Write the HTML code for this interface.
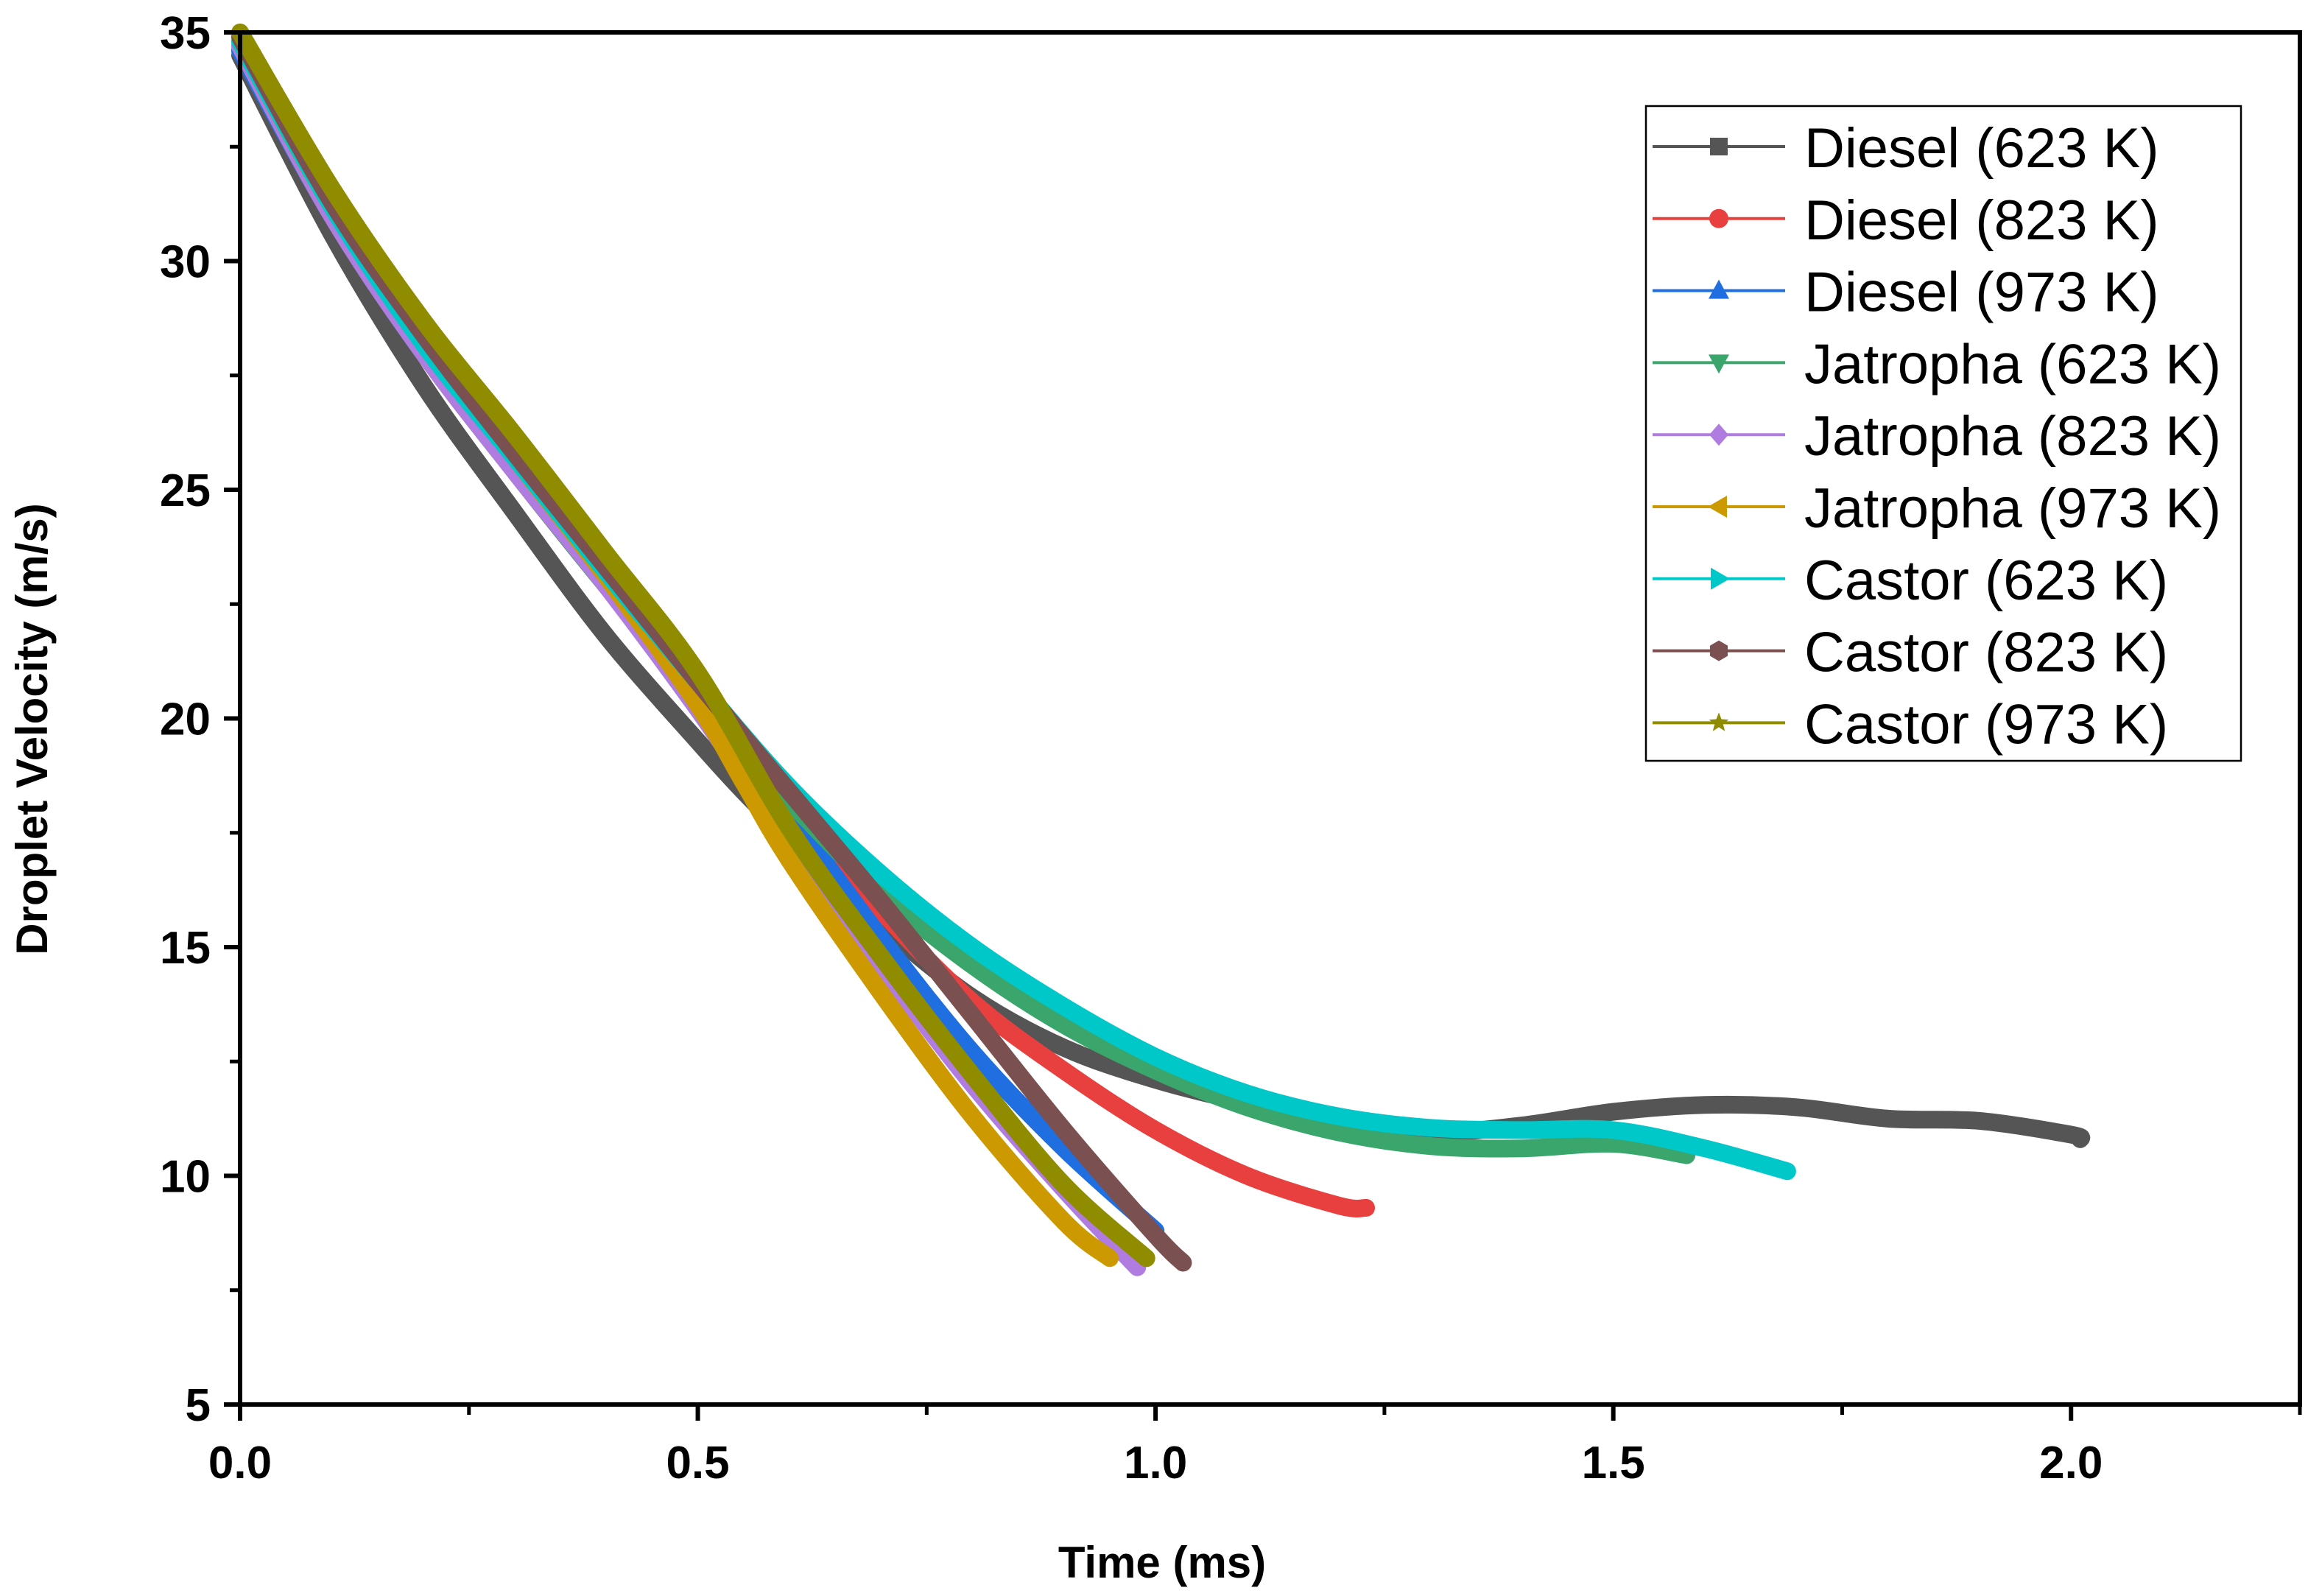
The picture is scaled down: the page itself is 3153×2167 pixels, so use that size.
<!DOCTYPE html>
<html><head><meta charset="utf-8"><style>
html,body{margin:0;padding:0;background:#fff;}
svg{display:block;font-family:"Liberation Sans",Arial,sans-serif;}
</style></head><body>
<svg id="chart" width="3153" height="2167" viewBox="0 0 3153 2167" xmlns="http://www.w3.org/2000/svg">
<g id="series"></g>
<g id="axes"></g>
<g id="legend"></g>
<text x="1578" y="2142" font-size="60" font-weight="bold" text-anchor="middle">Time (ms)</text>
<text transform="translate(64,990) rotate(-90)" font-size="60" font-weight="bold" text-anchor="middle">Droplet Velocity (m/s)</text>
</svg>
<script>
const seriesNames = ["Diesel (623 K)","Diesel (823 K)","Diesel (973 K)","Jatropha (623 K)","Jatropha (823 K)","Jatropha (973 K)","Castor (623 K)","Castor (823 K)","Castor (973 K)"];
const seriesColors = ["#555555","#e8403f","#1f6fe0","#3aa66b","#b07ce0","#cc9a00","#00c8c8","#7a5050","#8f8c00"];
const seriesMarkers = ["square","circle","triangle","down","diamond","left","right","hexagon","star"];
const diesel623T = [0,0.1,0.2,0.3,0.4,0.5,0.55,0.6,0.7,0.8,0.9,1.0,1.1,1.2,1.3,1.4,1.5,1.6,1.7,1.8,1.9,2.0,2.01];
const diesel623V = [34.5,30.6,27.3,24.5,21.8,19.5,18.4,17.4,15.5,13.9,12.8,12.1,11.6,11.2,10.95,11.1,11.4,11.55,11.5,11.25,11.2,10.9,10.8];
const diesel823T = [0,0.1,0.2,0.3,0.4,0.5,0.6,0.7,0.8,0.9,1.0,1.1,1.2,1.23];
const diesel823V = [34.6,31.0,28.0,25.4,22.9,20.5,18.1,15.8,13.8,12.3,11.0,10.0,9.35,9.3];
const diesel973T = [0,0.1,0.2,0.3,0.4,0.5,0.6,0.7,0.8,0.9,1.0];
const diesel973V = [34.6,31.0,28.0,25.5,23.0,20.5,17.9,15.2,12.7,10.6,8.8];
const jatropha623T = [0,0.1,0.2,0.3,0.4,0.5,0.6,0.7,0.8,0.9,1.0,1.1,1.2,1.3,1.4,1.5,1.58];
const jatropha623V = [34.7,31.0,28.0,25.4,22.9,20.5,18.2,16.2,14.6,13.3,12.3,11.5,10.95,10.65,10.6,10.7,10.45];
const jatropha823T = [0,0.1,0.2,0.3,0.4,0.5,0.6,0.7,0.8,0.9,0.98];
const jatropha823V = [34.7,31.0,28.0,25.4,22.9,20.2,17.3,14.6,12.0,9.7,8.0];
const jatropha973T = [0,0.1,0.2,0.3,0.4,0.5,0.55,0.6,0.7,0.8,0.9,0.95];
const jatropha973V = [34.8,31.2,28.3,25.7,23.1,20.3,18.6,16.9,14.0,11.3,9.0,8.2];
const castor623T = [0,0.1,0.2,0.3,0.4,0.5,0.6,0.7,0.8,0.9,1.0,1.1,1.2,1.3,1.4,1.5,1.6,1.69];
const castor623V = [34.8,31.2,28.2,25.7,23.2,20.8,18.5,16.6,15.0,13.7,12.6,11.8,11.3,11.05,11.0,11.0,10.6,10.1];
const castor823T = [0,0.1,0.2,0.3,0.4,0.5,0.6,0.7,0.8,0.9,1.0,1.03];
const castor823V = [34.9,31.3,28.4,25.8,23.3,20.8,18.4,16.0,13.5,11.0,8.7,8.1];
const castor973T = [0,0.1,0.2,0.3,0.4,0.5,0.6,0.7,0.8,0.9,0.99];
const castor973V = [35.0,31.6,28.7,26.2,23.6,21.0,17.6,14.8,12.2,9.8,8.2];
const xTicks = [0,0.5,1.0,1.5,2.0];
const xTickLabels = ["0.0","0.5","1.0","1.5","2.0"];
const yTicks = [5,10,15,20,25,30,35];
const yTickLabels = ["5","10","15","20","25","30","35"];

const NS="http://www.w3.org/2000/svg";
const X0=326,X1=3123,Y0=1907,Y1=44,XMIN=0,XMAX=2.25,YMIN=5,YMAX=35;
function xs(t){return X0+(t-XMIN)/(XMAX-XMIN)*(X1-X0);}
function ys(v){return Y0-(v-YMIN)/(YMAX-YMIN)*(Y0-Y1);}
function mk(tag,attrs,parent){const e=document.createElementNS(NS,tag);for(const k in attrs)e.setAttribute(k,attrs[k]);parent.appendChild(e);return e;}

const allT=[diesel623T,diesel823T,diesel973T,jatropha623T,jatropha823T,jatropha973T,castor623T,castor823T,castor973T];
const allV=[diesel623V,diesel823V,diesel973V,jatropha623V,jatropha823V,jatropha973V,castor623V,castor823V,castor973V];
const sg=document.getElementById('series');
function smoothPath(pts){
  let d="M"+pts[0][0]+","+pts[0][1];
  for(let i=0;i<pts.length-1;i++){
    const p0=pts[Math.max(i-1,0)],p1=pts[i],p2=pts[i+1],p3=pts[Math.min(i+2,pts.length-1)];
    const c1=[p1[0]+(p2[0]-p0[0])/6,p1[1]+(p2[1]-p0[1])/6];
    const c2=[p2[0]-(p3[0]-p1[0])/6,p2[1]-(p3[1]-p1[1])/6];
    d+=" C"+c1[0]+","+c1[1]+" "+c2[0]+","+c2[1]+" "+p2[0]+","+p2[1];
  }
  return d;
}
for(let s=0;s<allT.length;s++){
  const pts=allT[s].map((t,i)=>[xs(t),ys(allV[s][i])]);
  const p=mk('path',{d:smoothPath(pts),fill:'none',stroke:seriesColors[s],'stroke-width':24,'stroke-linejoin':'round','stroke-linecap':'round'},sg);
  
  
}

const ag=document.getElementById('axes');
const frame=mk('rect',{x:X0,y:Y1,width:X1-X0,height:Y0-Y1,fill:'none',stroke:'#000','stroke-width':6},ag);


for(let i=0;i<xTicks.length;i++){
  const x=xs(xTicks[i]);
  const tk=mk('line',{x1:x,y1:Y0,x2:x,y2:Y0+22,stroke:'#000','stroke-width':6},ag);
  
  
  const tx=mk('text',{x:x,y:Y0+100,'font-size':62,'font-weight':'bold','text-anchor':'middle'},ag);
  tx.textContent=xTickLabels[i];
  
  
}
for(let t=0.25;t<XMAX;t+=0.5){
  const x=xs(t);
  const tk=mk('line',{x1:x,y1:Y0,x2:x,y2:Y0+14,stroke:'#000','stroke-width':5},ag);
  
  
}
const rt=mk('line',{x1:X1,y1:Y0,x2:X1,y2:Y0+14,stroke:'#000','stroke-width':5},ag);


for(let i=0;i<yTicks.length;i++){
  const y=ys(yTicks[i]);
  const tk=mk('line',{x1:X0-22,y1:y,x2:X0,y2:y,stroke:'#000','stroke-width':6},ag);
  
  
  const tx=mk('text',{x:X0-40,y:y+22,'font-size':62,'font-weight':'bold','text-anchor':'end'},ag);
  tx.textContent=yTickLabels[i];
  
  
}
for(let v=7.5;v<YMAX;v+=5){
  const y=ys(v);
  const tk=mk('line',{x1:X0-14,y1:y,x2:X0,y2:y,stroke:'#000','stroke-width':5},ag);
  
  
}

const lg=document.getElementById('legend');
const box=mk('rect',{x:2235,y:144,width:808,height:889,fill:'#fff',stroke:'#000','stroke-width':2.5},lg);


function marker(type,cx,cy,c,g){
  const r=12;let e;
  if(type==='square') e=mk('rect',{x:cx-r,y:cy-r,width:2*r,height:2*r,fill:c},g);
  else if(type==='circle') e=mk('circle',{cx:cx,cy:cy,r:r+1,fill:c},g);
  else {
    let pts;
    if(type==='triangle') pts=[[0,-15],[14,11],[-14,11]];
    else if(type==='down') pts=[[0,15],[14,-11],[-14,-11]];
    else if(type==='diamond') pts=[[0,-15],[13,0],[0,15],[-13,0]];
    else if(type==='left') pts=[[-15,0],[11,-15],[11,15]];
    else if(type==='right') pts=[[15,0],[-11,-15],[-11,15]];
    else if(type==='hexagon') pts=[[0,-14],[12,-7],[12,7],[0,14],[-12,7],[-12,-7]];
    else { pts=[]; for(let k=0;k<10;k++){const a=-Math.PI/2+k*Math.PI/5;const rr=k%2?6:14;pts.push([rr*Math.cos(a),rr*Math.sin(a)]);} }
    e=mk('polygon',{points:pts.map(p=>(cx+p[0])+","+(cy+p[1])).join(" "),fill:c},g);
  }
  return e;
}
for(let s=0;s<seriesNames.length;s++){
  const y=199+s*97.8;
  const g=mk('g',{},lg);
  
  
  mk('line',{x1:2244,y1:y,x2:2424,y2:y,stroke:seriesColors[s],'stroke-width':4},g);
  marker(seriesMarkers[s],2334,y,seriesColors[s],g);
  const t=mk('text',{x:2450,y:y+28,'font-size':76},g);
  t.textContent=seriesNames[s];
}
</script>
</body></html>
